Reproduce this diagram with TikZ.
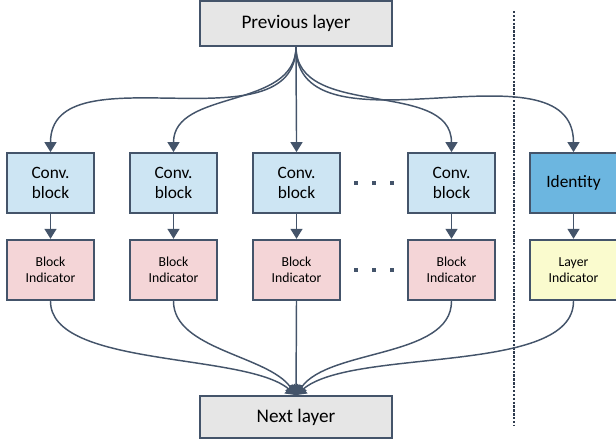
\documentclass[tikz,border=0pt]{standalone}
\usepackage{fontspec}
\setmainfont{Carlito}
\usetikzlibrary{arrows.meta}
\definecolor{edgecol}{HTML}{44546A}
\definecolor{greyfill}{HTML}{E6E6E6}
\definecolor{convfill}{HTML}{CDE5F3}
\definecolor{identfill}{HTML}{6CB6E0}
\definecolor{blockfill}{HTML}{F4D5D7}
\definecolor{layerfill}{HTML}{FAFBCE}
\definecolor{dotcol}{HTML}{2E3B4E}

\begin{document}
\begin{tikzpicture}[
        x=0.75pt, y=0.75pt, % 1 unit = 1 px
        box/.style={draw=edgecol, line width=1.3pt, align=center, inner sep=0pt},
        layerbox/.style={box, fill=greyfill, minimum width=144pt, font=\fontsize{14.4}{17}\selectfont},
        convbox/.style={box, minimum width=65pt, minimum height=45pt, font=\fontsize{13}{15.5}\selectfont},
        indbox/.style={box, minimum width=65pt, minimum height=45.5pt, font=\fontsize{10.3}{12.2}\selectfont},
        flow/.style={draw=edgecol, line width=1.1pt, -{Triangle[width=9pt,length=7.5pt]}},
    ]
    \useasboundingbox (0,0) rectangle (616,442);

    % ein- und ausgang
    \node[layerbox, minimum height=33.5pt] (prev) at (296,418.5) {Previous layer};
    \node[layerbox, minimum height=31.5pt] (next) at (296,25) {Next layer};

    % conv. bloecke
    \node[convbox, fill=convfill] (conv1) at (50.5,259) {Conv.\\block};
    \node[convbox, fill=convfill] (conv2) at (173.5,259) {Conv.\\block};
    \node[convbox, fill=convfill] (conv3) at (296.5,259) {Conv.\\block};
    \node[convbox, fill=convfill] (conv4) at (451.5,259) {Conv.\\block};
    \node[convbox, fill=identfill] (ident) at (573.5,259) {Identity};

    % indikatoren
    \node[indbox, fill=blockfill] (ind1) at (50.5,172) {Block\\Indicator};
    \node[indbox, fill=blockfill] (ind2) at (173.5,172) {Block\\Indicator};
    \node[indbox, fill=blockfill] (ind3) at (296.5,172) {Block\\Indicator};
    \node[indbox, fill=blockfill] (ind4) at (451.5,172) {Block\\Indicator};
    \node[indbox, fill=layerfill] (layerind) at (573.5,172) {Layer\\Indicator};

    % punkte
    \foreach \px in {356,374,392}{
        \fill[edgecol] (\px-2,259-2) rectangle ++(4,4);
        \fill[edgecol] (\px-2,172-2) rectangle ++(4,4);
    }

    % trennlinie
    \coordinate (septop) at (514,431);
    \coordinate (sepbot) at (514,17);
    \draw[dotcol, line width=2.2pt, dash pattern=on 1.8pt off 1.1pt] (septop) -- (sepbot);

    % verbindungen oben
    \foreach \t in {conv1,conv2,conv3,conv4,ident}
        \draw[flow] (prev.south) to[out=-90,in=90] (\t.north);
    \foreach \i in {1,...,4}
        \draw[flow] (conv\i) -- (ind\i);
    \draw[flow] (ident) -- (layerind);

    % verbindungen unten
    \draw[flow] (ind1.south) to[out=-90,in=140,looseness=0.65] (next.north);
    \draw[flow] (ind2.south) to[out=-90,in=125,looseness=0.8] (next.north);
    \draw[flow] (ind3.south) -- (next.north);
    \draw[flow] (ind4.south) to[out=-90,in=55,looseness=0.8] (next.north);
    \draw[flow] (layerind.south) to[out=-90,in=40,looseness=0.65] (next.north);
\end{tikzpicture}
\end{document}
